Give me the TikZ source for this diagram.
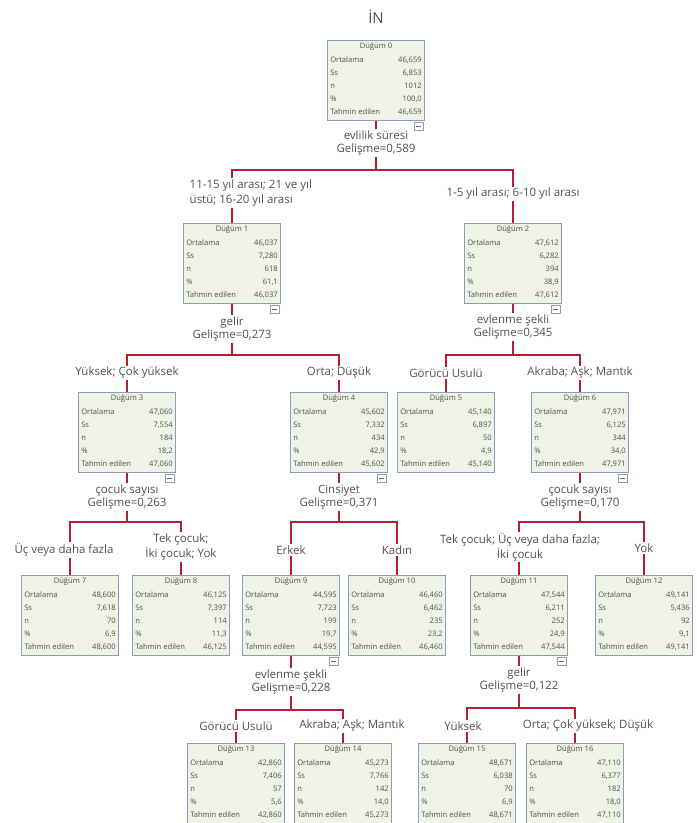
\documentclass[tikz,border=0pt]{standalone}
\usepackage{fontspec}
\setmainfont{Open Sans}
\definecolor{treered}{RGB}{178,30,50}
\definecolor{boxfill}{RGB}{238,243,229}
\definecolor{boxline}{RGB}{140,156,180}
\definecolor{txt}{RGB}{80,80,80}
\tikzset{
  dbox/.style={draw=boxline, fill=boxfill, line width=0.9pt, anchor=north, minimum width=97pt, minimum height=80pt, inner sep=0pt},
  dtxt/.style={font=\fontsize{7.6}{9}\selectfont, text=txt, inner sep=0pt},
  mbox/.style={draw=boxline, fill=white, line width=0.8pt, minimum width=9pt, minimum height=8pt, inner sep=0pt},
  mline/.style={draw=boxline!70!black, line width=0.8pt},
  split/.style={align=center, font=\fontsize{11.5}{13.5}\selectfont, text=txt, inner sep=1.5pt},
  branch/.style={align=center, font=\fontsize{11.5}{14.5}\selectfont, text=txt, inner sep=1.5pt},
  edge/.style={draw=treered, line width=2.3pt, line join=miter}
}
\newcommand\dugum[9]{%
  \node[dbox] (#1) at (#2,#3) {};
  \node[dtxt] (#1h) at ([yshift=-7pt]#1.north) {Düğüm #4};
  \node[dtxt, anchor=west] (#1a) at ([xshift=3pt,yshift=-20pt]#1.north west) {Ortalama};
  \node[dtxt, anchor=east] (#1av) at ([xshift=-3pt,yshift=-20pt]#1.north east) {#5};
  \node[dtxt, anchor=west] (#1b) at ([xshift=3pt,yshift=-33pt]#1.north west) {Ss};
  \node[dtxt, anchor=east] (#1bv) at ([xshift=-3pt,yshift=-33pt]#1.north east) {#6};
  \node[dtxt, anchor=west] (#1c) at ([xshift=3pt,yshift=-46pt]#1.north west) {n};
  \node[dtxt, anchor=east] (#1cv) at ([xshift=-3pt,yshift=-46pt]#1.north east) {#7};
  \node[dtxt, anchor=west] (#1d) at ([xshift=3pt,yshift=-59pt]#1.north west) {\%};
  \node[dtxt, anchor=east] (#1dv) at ([xshift=-3pt,yshift=-59pt]#1.north east) {#8};
  \node[dtxt, anchor=west] (#1e) at ([xshift=3pt,yshift=-72pt]#1.north west) {Tahmin edilen};
  \node[dtxt, anchor=east] (#1ev) at ([xshift=-3pt,yshift=-72pt]#1.north east) {#9};
}
\newcommand\eksi[1]{%
  \node[mbox] (#1m) at ([xshift=-6.5pt,yshift=-5pt]#1.south east) {};
  \draw[mline] ([xshift=2pt]#1m.west) -- ([xshift=-2pt]#1m.east);
}
\begin{document}
\begin{tikzpicture}[x=1pt,y=-1pt]
\useasboundingbox (0,0) rectangle (697,823);

\node[font=\fontsize{15}{17}\selectfont, text=txt] (title) at (376,17) {İN};

% boxes
\dugum{n0}{376}{40}{0}{46,659}{6,853}{1012}{100,0}{46,659}
\dugum{n1}{232}{223}{1}{46,037}{7,280}{618}{61,1}{46,037}
\dugum{n2}{513}{223}{2}{47,612}{6,282}{394}{38,9}{47,612}
\dugum{n3}{127}{392}{3}{47,060}{7,554}{184}{18,2}{47,060}
\dugum{n4}{339}{392}{4}{45,602}{7,332}{434}{42,9}{45,602}
\dugum{n5}{446}{392}{5}{45,140}{6,897}{50}{4,9}{45,140}
\dugum{n6}{580}{392}{6}{47,971}{6,125}{344}{34,0}{47,971}
\dugum{n7}{70}{575}{7}{48,600}{7,618}{70}{6,9}{48,600}
\dugum{n8}{181}{575}{8}{46,125}{7,397}{114}{11,3}{46,125}
\dugum{n9}{291}{575}{9}{44,595}{7,723}{199}{19,7}{44,595}
\dugum{n10}{397}{575}{10}{46,460}{6,462}{235}{23,2}{46,460}
\dugum{n11}{519}{575}{11}{47,544}{6,211}{252}{24,9}{47,544}
\dugum{n12}{644}{575}{12}{49,141}{5,436}{92}{9,1}{49,141}
\dugum{n13}{236}{743}{13}{42,860}{7,406}{57}{5,6}{42,860}
\dugum{n14}{343}{743}{14}{45,273}{7,766}{142}{14,0}{45,273}
\dugum{n15}{467}{743}{15}{48,671}{6,038}{70}{6,9}{48,671}
\dugum{n16}{575}{743}{16}{47,110}{6,377}{182}{18,0}{47,110}

% split 0
\node[split] (s0) at (376,143) {evlilik süresi\\Gelişme=0,589};
\coordinate (b0l) at (232,170); \coordinate (b0r) at (513,170);
\node[branch, align=left, anchor=west] (l1) at (188,193) {11-15 yıl arası; 21 ve yıl\\üstü; 16-20 yıl arası};
\node[branch] (l2) at (513,194) {1-5 yıl arası; 6-10 yıl arası};
\draw[edge] (n0.south) -- (s0.north);
\draw[edge] (s0.south) -- (s0.south |- b0l);
\draw[edge] (b0l |- l1.north) -- (b0l) -- (b0r) -- (b0r |- l2.north);
\draw[edge] (b0l |- l1.south) -- (n1.north);
\draw[edge] (l2.south) -- (n2.north);

% split 1
\node[split] (s1) at (232,329) {gelir\\Gelişme=0,273};
\coordinate (b1l) at (127,355); \coordinate (b1r) at (339,355);
\node[branch] (l3) at (127,373) {Yüksek; Çok yüksek};
\node[branch] (l4) at (339,373) {Orta; Düşük};
\draw[edge] (n1.south) -- (s1.north);
\draw[edge] (s1.south) -- (s1.south |- b1l);
\draw[edge] (l3.north) -- (b1l) -- (b1r) -- (l4.north);
\draw[edge] (l3.south) -- (n3.north);
\draw[edge] (l4.south) -- (n4.north);

% split 2
\node[split] (s2) at (513,327) {evlenme şekli\\Gelişme=0,345};
\coordinate (b2l) at (446,355); \coordinate (b2r) at (580,355);
\node[branch] (l5) at (446,373) {Görücü Usulü};
\node[branch] (l6) at (580,373) {Akraba; Aşk; Mantık};
\draw[edge] (n2.south) -- (s2.north);
\draw[edge] (s2.south) -- (s2.south |- b2l);
\draw[edge] (l5.north) -- (b2l) -- (b2r) -- (l6.north);
\draw[edge] (l5.south) -- (n5.north);
\draw[edge] (l6.south) -- (n6.north);

% split 3
\node[split] (s3) at (127,497) {çocuk sayısı\\Gelişme=0,263};
\coordinate (b3l) at (70,522); \coordinate (b3r) at (181,522);
\node[branch] (l7) at (64,550) {Üç veya daha fazla};
\node[branch] (l8) at (181,547) {Tek çocuk;\\İki çocuk; Yok};
\draw[edge] (n3.south) -- (s3.north);
\draw[edge] (s3.south) -- (s3.south |- b3l);
\draw[edge] (b3l |- l7.north) -- (b3l) -- (b3r) -- (l8.north);
\draw[edge] (b3l |- l7.south) -- (n7.north);
\draw[edge] (l8.south) -- (n8.north);

% split 4
\node[split] (s4) at (339,497) {Cinsiyet\\Gelişme=0,371};
\coordinate (b4l) at (291,522); \coordinate (b4r) at (397,522);
\node[branch] (l9) at (291,550) {Erkek};
\node[branch] (l10) at (397,550) {Kadın};
\draw[edge] (n4.south) -- (s4.north);
\draw[edge] (s4.south) -- (s4.south |- b4l);
\draw[edge] (l9.north) -- (b4l) -- (b4r) -- (l10.north);
\draw[edge] (l9.south) -- (n9.north);
\draw[edge] (l10.south) -- (n10.north);

% split 6
\node[split] (s6) at (580,497) {çocuk sayısı\\Gelişme=0,170};
\coordinate (b6l) at (519,522); \coordinate (b6r) at (644,522);
\node[branch] (l11) at (520,547) {Tek çocuk; Üç veya daha fazla;\\İki çocuk};
\node[branch] (l12) at (644,548) {Yok};
\draw[edge] (n6.south) -- (s6.north);
\draw[edge] (s6.south) -- (s6.south |- b6l);
\draw[edge] (b6l |- l11.north) -- (b6l) -- (b6r) -- (l12.north);
\draw[edge] (b6l |- l11.south) -- (n11.north);
\draw[edge] (l12.south) -- (n12.north);

% split 9
\node[split] (s9) at (291,682) {evlenme şekli\\Gelişme=0,228};
\coordinate (b9l) at (236,710); \coordinate (b9r) at (343,710);
\node[branch] (l13) at (236,726) {Görücü Usulü};
\node[branch] (l14) at (352,726) {Akraba; Aşk; Mantık};
\draw[edge] (n9.south) -- (s9.north);
\draw[edge] (s9.south) -- (s9.south |- b9l);
\draw[edge] (b9l |- l13.north) -- (b9l) -- (b9r) -- (b9r |- l14.north);
\draw[edge] (b9l |- l13.south) -- (n13.north);
\draw[edge] (b9r |- l14.south) -- (n14.north);

% split 11
\node[split] (s11) at (519,680) {gelir\\Gelişme=0,122};
\coordinate (b11l) at (467,708); \coordinate (b11r) at (575,708);
\node[branch] (l15) at (463,726) {Yüksek};
\node[branch] (l16) at (588,726) {Orta; Çok yüksek; Düşük};
\draw[edge] (n11.south) -- (s11.north);
\draw[edge] (s11.south) -- (s11.south |- b11l);
\draw[edge] (b11l |- l15.north) -- (b11l) -- (b11r) -- (b11r |- l16.north);
\draw[edge] (b11l |- l15.south) -- (n15.north);
\draw[edge] (b11r |- l16.south) -- (n16.north);

% collapse markers
\eksi{n0}\eksi{n1}\eksi{n2}\eksi{n3}\eksi{n4}\eksi{n6}\eksi{n9}\eksi{n11}
\end{tikzpicture}
\end{document}
